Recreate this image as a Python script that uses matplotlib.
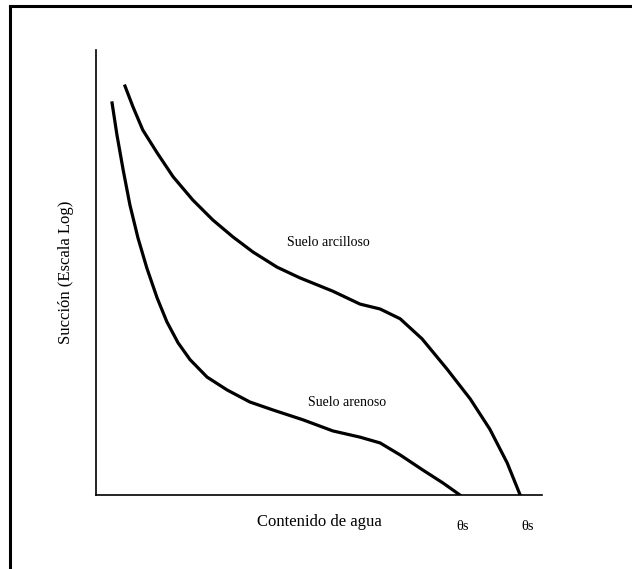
import matplotlib.pyplot as plt
from matplotlib.lines import Line2D

plt.rcParams['font.family'] = ['Liberation Serif', 'DejaVu Serif']

# curva del suelo arcilloso (contenido de agua, succion normalizados)
clay_x = [0.065, 0.083, 0.105, 0.137, 0.173, 0.217, 0.262, 0.307, 0.352,
          0.406, 0.457, 0.531, 0.592, 0.637, 0.682, 0.731, 0.787, 0.839,
          0.883, 0.922, 0.951]
clay_y = [0.919, 0.872, 0.820, 0.769, 0.715, 0.663, 0.618, 0.580, 0.546,
          0.512, 0.488, 0.458, 0.429, 0.418, 0.396, 0.351, 0.283, 0.216,
          0.148, 0.072, 0.0]

# curva del suelo arenoso
sand_x = [0.036, 0.047, 0.061, 0.076, 0.094, 0.114, 0.137, 0.159, 0.184,
          0.211, 0.249, 0.294, 0.345, 0.397, 0.464, 0.531, 0.592, 0.637,
          0.682, 0.733, 0.778, 0.816]
sand_y = [0.881, 0.809, 0.730, 0.652, 0.578, 0.510, 0.443, 0.389, 0.342,
          0.304, 0.265, 0.236, 0.209, 0.191, 0.169, 0.144, 0.130, 0.117,
          0.090, 0.056, 0.027, 0.0]

W, H = 632, 569
fig = plt.figure(figsize=(W / 100, H / 100), dpi=100)
ax = fig.add_axes([96 / W, (H - 495) / H, 446 / W, 445 / H])

ax.plot(clay_x, clay_y, color='black', lw=2.3, solid_joinstyle='round')
ax.plot(sand_x, sand_y, color='black', lw=2.3, solid_joinstyle='round')

ax.set_xlim(0, 1)
ax.set_ylim(0, 1)
ax.spines['top'].set_visible(False)
ax.spines['right'].set_visible(False)
ax.spines['left'].set_linewidth(1.2)
ax.spines['bottom'].set_linewidth(1.2)
ax.set_xticks([])
ax.set_yticks([])

ax.text(0.52, 0.568, 'Suelo arcilloso', fontsize=10, ha='center', va='center')
ax.text(0.563, 0.208, 'Suelo arenoso', fontsize=10, ha='center', va='center')
ax.text(sand_x[-1] + 0.007, -0.07, 'θs', fontsize=10.5, ha='center', va='center')
ax.text(clay_x[-1] + 0.017, -0.07, 'θs', fontsize=10.5, ha='center', va='center')

ax.set_xlabel('Contenido de agua', fontsize=12, labelpad=14)
ax.set_ylabel('Succión (Escala Log)', fontsize=12, labelpad=16)

# marco parcial alrededor de la figura
fig.add_artist(Line2D([10 / W, 10 / W], [0, 1 - 6 / H], color='black', lw=2.2))
fig.add_artist(Line2D([10 / W, 1], [1 - 6 / H, 1 - 6 / H], color='black', lw=2.2))

fig.savefig('out.png', dpi=100)
